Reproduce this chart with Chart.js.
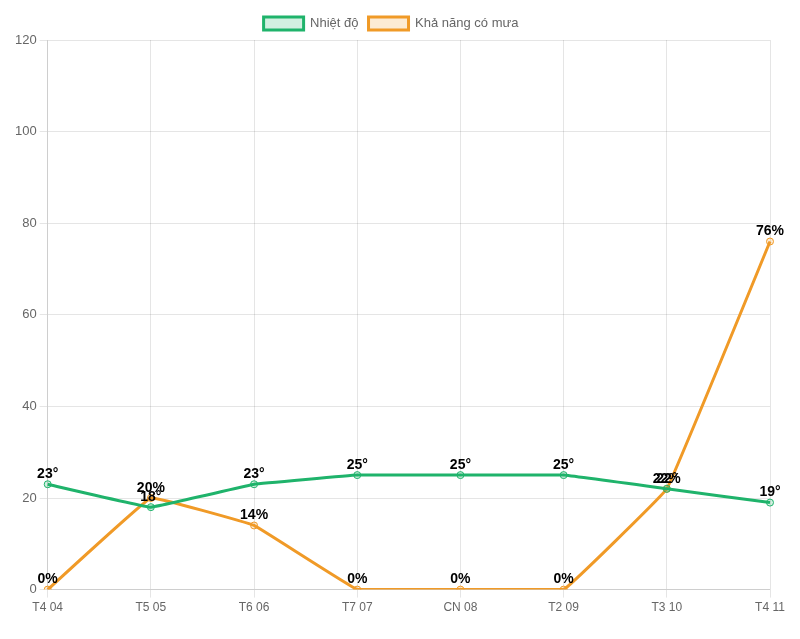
<!DOCTYPE html>
<html>
<head>
<meta charset="utf-8">
<title>Thời tiết</title>
<script src="https://cdn.jsdelivr.net/npm/chart.js"></script>
<style>
  html, body { margin: 0; padding: 0; background: #fff; }
  #wrap { width: 800px; height: 639px; }
</style>
</head>
<body>
<div id="wrap"><canvas id="chart"></canvas></div>
<script>
const days = ['T4 04', 'T5 05', 'T6 06', 'T7 07', 'CN 08', 'T2 09', 'T3 10', 'T4 11'];
const temps = [23, 18, 23, 25, 25, 25, 22, 19];
const rainChance = [0, 20, 14, 0, 0, 0, 22, 76];

// draw value above each point (no datalabels plugin here)
const pointLabels = {
  id: 'pointLabels',
  afterDatasetsDraw(chart) {
    const ctx = chart.ctx;
    ctx.save();
    ctx.font = 'bold 14px Arial, "Liberation Sans", sans-serif';
    ctx.fillStyle = '#000';
    ctx.textAlign = 'center';
    ctx.textBaseline = 'bottom';
    chart.data.datasets.forEach((ds, i) => {
      const meta = chart.getDatasetMeta(i);
      meta.data.forEach((pt, j) => {
        ctx.fillText(ds.data[j] + ds.suffix, pt.x, pt.y - 3);
      });
    });
    ctx.restore();
  }
};

Chart.defaults.font.family = 'Arial, "Liberation Sans", sans-serif';
Chart.defaults.color = '#666';

new Chart(document.getElementById('chart'), {
  type: 'line',
  data: {
    labels: days,
    datasets: [
      {
        label: 'Nhiệt độ',
        data: temps,
        suffix: '°',
        borderColor: '#1fb36b',
        backgroundColor: 'rgba(31,179,107,0.2)',
        borderWidth: 3,
        pointRadius: 3.5,
        pointBorderWidth: 1,
        tension: 0.05
      },
      {
        label: 'Khả năng có mưa',
        data: rainChance,
        suffix: '%',
        borderColor: '#f09a27',
        backgroundColor: 'rgba(240,154,39,0.2)',
        borderWidth: 3,
        pointRadius: 3.5,
        pointBorderWidth: 1,
        tension: 0.05
      }
    ]
  },
  options: {
    responsive: true,
    maintainAspectRatio: false,
    animation: false,
    layout: { padding: { left: 12, right: 30, top: 7, bottom: 21 } },
    plugins: {
      legend: { position: 'top', labels: { font: { size: 13 } } },
      tooltip: { enabled: false }
    },
    scales: {
      x: { ticks: { font: { size: 12 } } },
      y: { min: 0, max: 120, ticks: { stepSize: 20, font: { size: 13 } } }
    }
  },
  plugins: [pointLabels]
});
</script>
</body>
</html>
